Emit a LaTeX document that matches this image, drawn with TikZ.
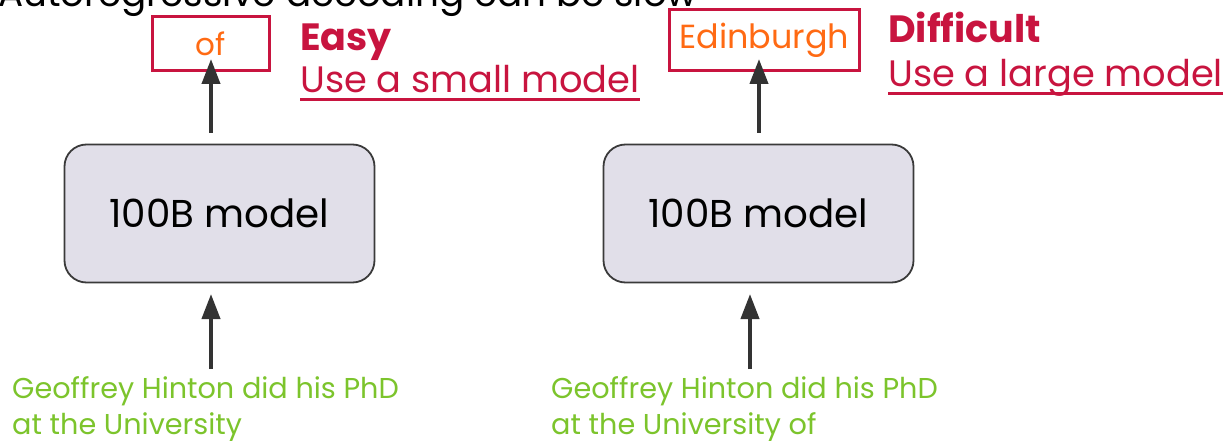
\documentclass[tikz,border=0pt]{standalone}
\usepackage{fontspec}
\setmainfont{Poppins}
\usetikzlibrary{arrows.meta}
\definecolor{accent}{HTML}{C8143F}
\definecolor{tokenorange}{HTML}{FF6A13}
\definecolor{promptgreen}{HTML}{7CC42C}
\definecolor{modelfill}{HTML}{E1DFE9}
\definecolor{modeledge}{HTML}{3A3A3A}
\definecolor{arrowgray}{HTML}{333333}
\tikzset{
  x=1pt, y=-1pt,
  model/.style={draw=modeledge, line width=1.8pt, fill=modelfill, rounded corners=22pt,
    minimum width=310pt, minimum height=138pt, inner sep=0pt,
    font=\fontsize{38.8}{42}\selectfont},
  token/.style={draw=accent, line width=3pt, inner sep=0pt, text=tokenorange},
  hardness/.style={anchor=base west, inner sep=0pt, text=accent,
    font=\fontsize{38}{42}\selectfont\bfseries},
  advice/.style={anchor=base west, inner sep=0pt, text=accent,
    font=\fontsize{36.8}{40}\selectfont},
  prompt/.style={anchor=base west, inner sep=0pt, text=promptgreen, align=left,
    font=\fontsize{28.7}{36}\selectfont},
  flow/.style={draw=arrowgray, line width=4pt,
    -{Triangle[length=25pt, width=18pt]}},
  uline/.style={draw=accent, line width=3pt},
}
\begin{document}
\begin{tikzpicture}
\useasboundingbox (0,0) rectangle (1227,441);
\clip (0,0) rectangle (1227,441);

% heading, mostly above the page
\node[anchor=base west, inner sep=0pt, font=\fontsize{37.3}{40}\selectfont] (title)
  at (-2,7) {Autoregressive decoding can be slow};

% left example
\node[model] (m1) at (219.5,213.5) {100B model};
\node[token, minimum width=117pt, minimum height=54pt,
  font=\fontsize{31}{34}\selectfont] (t1) at (211,43.5) {of};
\node[hardness] (h1) at (300,51) {Easy};
\node[advice] (u1) at (300,93) {Use a small model};
\draw[uline] ([yshift=-7pt]u1.base west) -- ([yshift=-7pt]u1.base east);
\node[prompt] (p1) at (12,434) {Geoffrey Hinton did his PhD\\at the University};

% right example
\node[model] (m2) at (758.5,213.5) {100B model};
\node[token, minimum width=190pt, minimum height=61pt,
  font=\fontsize{33.4}{36}\selectfont] (t2) at (764.5,40) {Edinburgh};
\node[hardness] (h2) at (888,43) {Difficult};
\node[advice] (u2) at (888,87) {Use a large model};
\draw[uline] ([yshift=-7pt]u2.base west) -- ([yshift=-7pt]u2.base east);
\node[prompt] (p2) at (551,434) {Geoffrey Hinton did his PhD\\at the University of};

% arrow end points
\coordinate (a1s) at (211,369); \coordinate (a1e) at (211,294);
\coordinate (b1s) at (211,133); \coordinate (b1e) at (211,59);
\coordinate (a2s) at (750,369); \coordinate (a2e) at (750,294);
\coordinate (b2s) at (759,133); \coordinate (b2e) at (759,59);

\draw[flow] (a1s) -- (a1e);
\draw[flow] (b1s) -- (b1e);
\draw[flow] (a2s) -- (a2e);
\draw[flow] (b2s) -- (b2e);
\end{tikzpicture}
\end{document}
